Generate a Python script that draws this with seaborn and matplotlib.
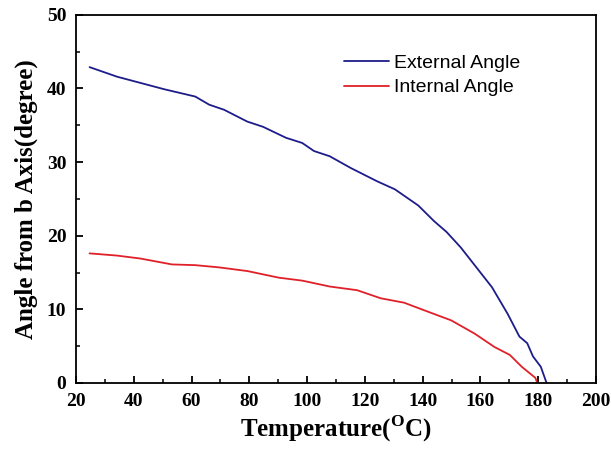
import numpy as np
import pandas as pd
import matplotlib
matplotlib.use("Agg")
import matplotlib.pyplot as plt
import seaborn as sns
from matplotlib.ticker import MultipleLocator

ext_temp = [24.7, 34.2, 50.5, 61.3, 66.1, 71.3, 79.3, 84.7, 92.7, 98.3, 102.4, 107.8,
            115.1, 124.2, 130.4, 138.5, 143.9, 148.3, 153.2, 158.6, 164.0, 169.4,
            173.5, 176.2, 178.2, 180.9, 182.9]
ext_angle = [42.9, 41.6, 39.9, 38.9, 37.8, 37.1, 35.5, 34.8, 33.3, 32.6, 31.5, 30.8,
             29.2, 27.4, 26.3, 24.1, 22.0, 20.5, 18.4, 15.7, 13.0, 9.4,
             6.3, 5.4, 3.6, 2.2, 0.0]
int_temp = [24.7, 34.2, 42.3, 53.2, 61.3, 69.5, 79.3, 90.2, 98.3, 107.8, 117.3, 125.5,
            133.6, 141.7, 149.9, 158.0, 164.8, 170.2, 174.3, 179.0, 179.7]
int_angle = [17.6, 17.3, 16.9, 16.1, 16.0, 15.7, 15.2, 14.3, 13.9, 13.1, 12.6, 11.5,
             10.9, 9.7, 8.5, 6.7, 4.9, 3.8, 2.2, 0.7, 0.0]
series_names = ["External Angle", "Internal Angle"]

df = pd.concat([
    pd.DataFrame({"Temperature": ext_temp, "Angle": ext_angle, "Series": series_names[0]}),
    pd.DataFrame({"Temperature": int_temp, "Angle": int_angle, "Series": series_names[1]}),
])

sns.set_style("ticks")
plt.rcParams["text.color"] = "black"
plt.rcParams["axes.labelcolor"] = "black"
fig = plt.figure(figsize=(6.11, 4.5), dpi=100)
ax = fig.add_axes([0.1244, 0.149, 0.851, 0.818])

sns.lineplot(data=df, x="Temperature", y="Angle", hue="Series", sort=False,
             palette={"External Angle": "#1c1c8a", "Internal Angle": "#e02028"},
             linewidth=1.3, ax=ax, estimator=None)

ax.set_xlim(20, 200)
ax.set_ylim(0, 50)
ax.xaxis.set_major_locator(MultipleLocator(20))
ax.xaxis.set_minor_locator(MultipleLocator(10))
ax.yaxis.set_major_locator(MultipleLocator(10))
ax.yaxis.set_minor_locator(MultipleLocator(5))
ax.tick_params(which="major", direction="in", length=5, width=1.3, colors="black", pad=7)
ax.tick_params(which="minor", direction="in", length=3, width=1.1, colors="black")
for s in ax.spines.values():
    s.set_linewidth(1.3)
    s.set_color("black")

serif = ["Liberation Serif", "DejaVu Serif"]
for lbl in ax.get_xticklabels() + ax.get_yticklabels():
    lbl.set_fontfamily(serif)
    lbl.set_fontweight("bold")
    lbl.set_fontsize(14)
    lbl.set_color("black")

ax.set_xlabel("Temperature($^{\\mathregular{O}}$C)", fontfamily=serif, fontweight="bold",
              fontsize=18, labelpad=3, color="black")
ax.set_ylabel("Angle from b Axis(degree)", fontfamily=serif, fontweight="bold",
              fontsize=18, labelpad=6, color="black")

leg = ax.legend(loc="upper left", bbox_to_anchor=(0.482, 0.94), frameon=False,
                prop={"family": ["Liberation Sans", "DejaVu Sans"], "size": 14},
                handlelength=2.3, handletextpad=0.25, labelspacing=0.35, title=None)
for t in leg.get_texts():
    t.set_color("black")

fig.savefig("out.png", dpi=100)
